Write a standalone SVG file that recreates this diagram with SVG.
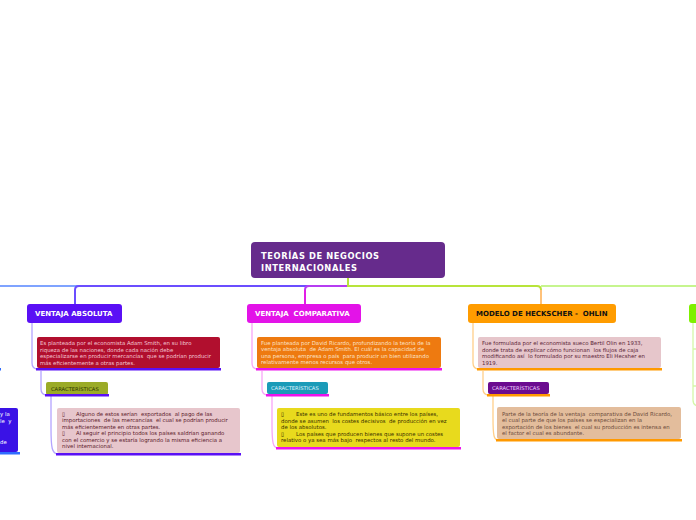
<svg xmlns="http://www.w3.org/2000/svg" width="696" height="520" viewBox="0 0 696 520">
<style>
.t{font-family:"DejaVu Sans",Verdana,sans-serif;font-weight:bold}
.s{font-family:"DejaVu Sans",Verdana,sans-serif;font-size:5.4px}
.c{font-family:"DejaVu Sans",Verdana,sans-serif;font-size:5.2px}
.ln{fill:none;stroke-width:1.3}
.br{fill:none;stroke-width:2}
</style>
<rect width="696" height="520" fill="#ffffff"/>
<g id="connectors">
<path class="br" d="M348,286 H0" stroke="#7fa3ff"/>
<path class="br" d="M348,286 H79 Q75,286 75,290 V304" stroke="#6b4dff"/>
<path class="br" d="M348,286 H309 Q305,286 305,290" stroke="#b53cf3"/>
<path class="br" d="M305,290 V304" stroke="#e21ee6"/>
<path class="br" d="M541,286 H696" stroke="#c6f58e"/>
<path class="br" d="M348,278 V286 H537 Q541,286 541,290" stroke="#b8e43a"/>
<path class="br" d="M541,290 V304" stroke="#ffc27a"/>
<path class="ln" d="M32,322 V363 Q32,369 38,369" stroke="#b4a4ff"/>
<path class="ln" d="M41,371 V389 Q41,395 47,395" stroke="#b4a4ff"/>
<path class="ln" d="M51,396 V428 C51,448 52,454 58,454" stroke="#b4a4ff"/>
<path class="ln" d="M252,322 V363 Q252,369 258,369" stroke="#f7a6f7"/>
<path class="ln" d="M262,371 V389 Q262,395 268,395" stroke="#f7a6f7"/>
<path class="ln" d="M272,396 V424 C272,443 273,448 278,448" stroke="#f7a6f7"/>
<path class="ln" d="M473,322 V363 Q473,369 479,369" stroke="#ffcf8a"/>
<path class="ln" d="M483,371 V389 Q483,395 489,395" stroke="#ffcf8a"/>
<path class="ln" d="M493,396 V418 C493,436 494,440 498,440" stroke="#ffcf8a"/>
<path class="ln" d="M693,322 V400 Q693,406 699,406 M693,349 H699 M693,386 H699" stroke="#d4f7a8"/>
</g>
<g id="central">
<rect x="251" y="242" width="194" height="36" rx="4" fill="#662b8c"/>
<text class="t" x="261" y="259" font-size="8.3" letter-spacing="0.6" fill="#ffffff">TEORÍAS DE NEGOCIOS</text>
<text class="t" x="261" y="270.5" font-size="8.3" letter-spacing="0.6" fill="#ffffff">INTERNACIONALES</text>
</g>
<g id="left-partial">
<rect x="-6" y="408" width="24" height="44" rx="2" fill="#3a12e6"/>
<rect x="-2" y="452" width="22" height="2.5" fill="#2f6cff"/>
<rect x="-2" y="368" width="3" height="2.5" fill="#2f6cff"/>
<text class="s" x="0" y="416" fill="#ffffff">y la</text>
<text class="s" x="0" y="423" fill="#ffffff" xml:space="preserve">le  y</text>
<text class="s" x="0" y="443.5" fill="#ffffff">de</text>
</g>
<g id="ventaja-absoluta">
<rect x="27" y="304" width="95" height="19" rx="3" fill="#5a10f5"/>
<text class="t" x="35" y="316" font-size="7" fill="#ffffff">VENTAJA ABSOLUTA</text>
</g>
<g id="va-desc">
<rect x="37" y="337" width="183" height="31" rx="2" fill="#b10f2e"/>
<rect x="36" y="368" width="185" height="2.5" fill="#5a10f5"/>
<text class="s" fill="#f3c6d2" xml:space="preserve"><tspan x="40" y="345">Es planteada por el economista Adam Smith, en su libro</tspan><tspan x="40" y="351.5">riqueza de las naciones, donde cada nación debe</tspan><tspan x="40" y="358">especializarse en producir mercancías  que se podrían producir</tspan><tspan x="40" y="364.5">más eficientemente a otras partes.</tspan></text>
</g>
<g id="va-caract">
<rect x="46" y="382" width="62" height="13" rx="2" fill="#9bab27"/>
<rect x="45" y="394" width="64" height="2.5" fill="#5a10f5"/>
<text class="c" x="51" y="390.5" fill="#2a3000">CARACTERÍSTICAS</text>
</g>
<g id="va-caract-desc">
<rect x="57" y="408" width="183" height="45" rx="2" fill="#e7c6cc"/>
<rect x="56" y="453" width="185" height="2.5" fill="#5a10f5"/>
<text class="s" fill="#5b1a2a" xml:space="preserve"><tspan x="62" y="415.5">▯</tspan><tspan x="76" y="415.5">Alguno de estos serían  exportados  al pago de las</tspan><tspan x="62" y="422">importaciones  de las mercancías  el cual se podrían producir</tspan><tspan x="62" y="428.5">más eficientemente en otras partes.</tspan><tspan x="62" y="435">▯</tspan><tspan x="76" y="435">Al seguir el principio todos los países saldrían ganando</tspan><tspan x="62" y="441.5">con el comercio y se estaría logrando la misma eficiencia a</tspan><tspan x="62" y="448">nivel internacional.</tspan></text>
</g>
<g id="ventaja-comparativa">
<rect x="247" y="304" width="114" height="19" rx="3" fill="#e313e8"/>
<text class="t" x="255" y="316" font-size="7" fill="#ffffff" xml:space="preserve">VENTAJA  COMPARATIVA</text>
</g>
<g id="vc-desc">
<rect x="257" y="337" width="184" height="31" rx="2" fill="#ee7a10"/>
<rect x="256" y="368" width="186" height="2.5" fill="#ec14ec"/>
<text class="s" fill="#fbe2c8" xml:space="preserve"><tspan x="261" y="344.5">Fue planteada por David Ricardo, profundizando la teoría de la</tspan><tspan x="261" y="351">ventaja absoluta  de Adam Smith. El cuál es la capacidad de</tspan><tspan x="261" y="357.5">una persona, empresa o país  para producir un bien utilizando</tspan><tspan x="261" y="364">relativamente menos recursos que otros.</tspan></text>
</g>
<g id="vc-caract">
<rect x="267" y="382" width="61" height="12" rx="2" fill="#1b9bb8"/>
<rect x="266" y="394" width="63" height="2.5" fill="#ec14ec"/>
<text class="c" x="271" y="390" fill="#e0f5ff">CARACTERÍSTICAS</text>
</g>
<g id="vc-caract-desc">
<rect x="277" y="408" width="183" height="39" rx="2" fill="#e8da1d"/>
<rect x="276" y="447" width="185" height="2.5" fill="#ec14ec"/>
<text class="s" fill="#3a3000" xml:space="preserve"><tspan x="281" y="416">▯</tspan><tspan x="296" y="416">Este es uno de fundamentos básico entre los países,</tspan><tspan x="281" y="422.5">donde se asumen  los costes decisivos  de producción en vez</tspan><tspan x="281" y="429">de los absolutos.</tspan><tspan x="281" y="435.5">▯</tspan><tspan x="296" y="435.5">Los países que producen bienes que supone un costes</tspan><tspan x="281" y="442">relativo o ya sea más bajo  respectos al resto del mundo.</tspan></text>
</g>
<g id="heckscher-ohlin">
<rect x="468" y="304" width="148" height="19" rx="3" fill="#ff9c00"/>
<text class="t" x="476" y="316" font-size="7" fill="#111111" xml:space="preserve">MODELO DE HECKSCHER -  OHLIN</text>
</g>
<g id="ho-desc">
<rect x="478" y="337" width="183" height="31" rx="2" fill="#e6c6cb"/>
<rect x="477" y="368" width="185" height="2.5" fill="#ff9900"/>
<text class="s" fill="#5a2436" xml:space="preserve"><tspan x="482" y="345">Fue formulada por el economista sueco Bertil Olin en 1933,</tspan><tspan x="482" y="351.5">donde trata de explicar cómo funcionan  los flujos de caja</tspan><tspan x="482" y="358">modificando así  lo formulado por su maestro Eli Hecsher en</tspan><tspan x="482" y="364.5">1919.</tspan></text>
</g>
<g id="ho-caract">
<rect x="488" y="382" width="61" height="12" rx="2" fill="#6b0b8f"/>
<rect x="487" y="394" width="63" height="2.5" fill="#ff9900"/>
<text class="c" x="492" y="390" fill="#f0d8ff">CARACTERÍSTICAS</text>
</g>
<g id="ho-caract-desc">
<rect x="497" y="407" width="184" height="32" rx="2" fill="#e3bd9c"/>
<rect x="496" y="439" width="186" height="2.5" fill="#ff9900"/>
<text class="s" fill="#6b4b3b" xml:space="preserve"><tspan x="502" y="416">Parte de la teoría de la ventaja  comparativa de David Ricardo,</tspan><tspan x="502" y="422">el cual parte de que los países se especializan en la</tspan><tspan x="502" y="428.5">exportación de los bienes  el cual su producción es intensa en</tspan><tspan x="502" y="435">el factor el cual es abundante.</tspan></text>
</g>
<g id="right-partial">
<rect x="689" y="304" width="12" height="19" rx="3" fill="#7ff000"/>
</g>
</svg>
